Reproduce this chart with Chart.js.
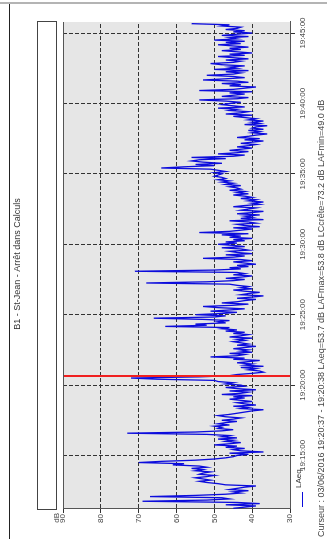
<!DOCTYPE html>
<html>
<head>
<meta charset="utf-8">
<script src="https://cdn.jsdelivr.net/npm/chart.js@4.4.1/dist/chart.umd.min.js"></script>
<style>
  html, body { margin: 0; padding: 0; background: #fff; overflow: hidden; }
  body { width: 327px; height: 539px; position: relative; }
  /* the chart is drawn landscape and turned a quarter to the left */
  #wrap {
    position: absolute; left: 0; top: 539px;
    width: 539px; height: 327px;
    transform-origin: 0 0;
    transform: rotate(-90deg);
  }
</style>
</head>
<body>
<div id="wrap"><canvas id="chart" width="539" height="327"></canvas></div>
<script>
// series: LAeq every 5 s starting at startTime
const startTime = "19:11:15";
const stepSeconds = 5;
const laeq = [
  45, 42, 39, 47, 38, 44, 69, 52, 46,
  48, 67, 55, 47, 43, 45, 41, 46, 44, 42, 39, 47,
  49, 52, 54, 51, 53, 55, 52, 50, 54, 53, 51, 55,
  53, 56, 52, 54, 61, 58, 70, 64, 55, 50, 47, 45,
  44, 41, 46, 37, 43, 45, 42, 47, 44, 50, 46, 43,
  47, 45, 49, 44, 48, 46, 52, 73, 55, 48, 45, 49,
  48, 50, 46, 49, 47, 44, 48, 45, 43, 47, 49, 46,
  44, 42, 40, 37, 43, 41, 45, 39, 42, 44, 40, 43,
  46, 42, 45, 40, 48, 43, 41, 46, 39, 44, 47, 42,
  43, 47, 45, 49, 50, 65, 72, 54, 46, 44, 40, 37,
  38, 41, 39, 43, 37, 42, 40, 44, 41, 38, 45, 42,
  51, 44, 42, 46, 40, 43, 41, 45, 42, 39, 44, 41,
  43, 45, 42, 44, 40, 46, 43, 41, 45, 42, 47, 44,
  48, 46, 63, 52, 55, 47, 49, 46, 53, 66, 50, 47,
  55, 48, 44, 51, 46, 42, 49, 53, 45, 41, 48, 44,
  42, 39, 44, 40, 37, 43, 41, 38, 42, 45, 40, 43,
  41, 44, 46, 68, 52, 45, 42, 47, 43, 40, 45, 42,
  44, 71, 50, 43, 46, 41, 44, 39, 42, 45, 40, 43,
  53, 45, 42, 47, 40, 44, 46, 41, 43, 48, 42, 45,
  49, 44, 47, 42, 45, 40, 46, 43, 48, 41, 54, 46,
  43, 40, 45, 38, 42, 44, 39, 41, 46, 37, 43, 40,
  42, 38, 44, 40, 37, 43, 41, 39, 45, 42, 38, 40,
  37, 41, 39, 43, 40, 42, 45, 41, 44, 42, 46, 43,
  44, 46, 43, 47, 45, 48, 46, 49, 47, 48, 50, 49,
  48, 50, 47, 49, 51, 64, 58, 50, 55, 48, 53, 56,
  54, 47, 56, 45, 42, 49, 44, 41, 46, 43, 40, 44,
  41, 39, 43, 40, 37, 42, 38, 44, 41, 39, 36, 40,
  38, 41, 37, 40, 39, 36, 42, 38, 40, 37, 41, 39,
  42, 45, 40, 47, 43, 41, 46, 44, 49, 42, 45, 48,
  46, 43, 47, 54, 44, 41, 48, 45, 42, 46, 40, 54,
  45, 42, 39, 46, 43, 48, 41, 44, 53, 47, 42, 45,
  52, 45, 43, 47, 41, 50, 44, 46, 42, 48, 51, 45,
  43, 47, 41, 45, 49, 42, 46, 40, 44, 48, 43, 46,
  41, 45, 49, 43, 47, 42, 50, 44, 46, 41, 48, 44,
  40, 45, 42, 47, 44, 43, 48, 46, 56
];
const timeTicks = ["19:15:00", "19:20:00", "19:25:00", "19:30:00", "19:35:00", "19:40:00", "19:45:00"];
const timeMin = "19:11:12";
const timeMax = "19:45:47";
const dbMin = 30;
const dbMax = 90;
const dbStep = 10;
const cursorTime = "19:20:37";

const titleText = "B1 - St-Jean - Arrêt dans Calculs";
const seriesName = "LAeq";
const footerText = "Curseur : 03/06/2016 19:20:37 - 19:20:38 LAeq=53.7 dB LAFmax=53.8 dB LCcrête=73.2 dB LAFmin=49.0 dB";

const FONT = "'Liberation Sans', Arial, sans-serif";
const LINE_BLUE = "#0c0cdc";

const toSeconds = (s) => {
  const p = s.split(":").map(Number);
  return p[0] * 3600 + p[1] * 60 + p[2];
};
const pad = (n) => String(n).padStart(2, "0");
const toClock = (v) => {
  const h = Math.floor(v / 3600);
  const m = Math.floor((v % 3600) / 60);
  const s = Math.round(v % 60);
  return pad(h) + ":" + pad(m) + ":" + pad(s);
};

const t0 = toSeconds(startTime);
const points = laeq.map((v, i) => ({ x: t0 + i * stepSeconds, y: v }));

// background, borders, box, legend, texts and cursor
const decorations = {
  id: "decorations",
  beforeDraw(chart) {
    const { ctx, chartArea: a } = chart;
    ctx.save();
    ctx.fillStyle = "#e6e6e6";
    ctx.fillRect(a.left, a.top, a.right - a.left, a.bottom - a.top);
    ctx.restore();
  },
  afterDraw(chart) {
    const { ctx, chartArea: a, width, height, scales } = chart;
    ctx.save();

    // cursor line
    const cx = Math.round(scales.x.getPixelForValue(toSeconds(cursorTime) + 0.5));
    ctx.fillStyle = "#f02020";
    ctx.fillRect(cx - 1, a.top, 2, a.bottom - a.top);

    // top border of the plot
    ctx.strokeStyle = "#555";
    ctx.lineWidth = 1;
    ctx.beginPath();
    ctx.moveTo(a.left, a.top + 0.5);
    ctx.lineTo(a.right, a.top + 0.5);
    ctx.stroke();

    // empty box above the plot
    ctx.fillStyle = "#fff";
    ctx.fillRect(a.left - 1, 37, a.right - a.left + 2, 19);
    ctx.strokeStyle = "#444";
    ctx.strokeRect(a.left - 0.5, 37.5, a.right - a.left + 1, 19);

    // title
    ctx.fillStyle = "#333";
    ctx.font = "9px " + FONT;
    ctx.textAlign = "center";
    ctx.textBaseline = "middle";
    ctx.fillText(titleText, 275, 18);

    // unit above the 90 tick
    ctx.font = "8px " + FONT;
    ctx.textAlign = "right";
    ctx.fillStyle = "#444";
    ctx.fillText("dB", 26, 57);

    // legend
    ctx.strokeStyle = LINE_BLUE;
    ctx.beginPath();
    ctx.moveTo(32, 302.5);
    ctx.lineTo(47, 302.5);
    ctx.stroke();
    ctx.textAlign = "left";
    ctx.fillStyle = "#333";
    ctx.fillText(seriesName, 51, 299);

    // cursor readout
    ctx.font = "9px " + FONT;
    ctx.fillStyle = "#444";
    ctx.fillText(footerText, 2, 322);

    // outer frame
    ctx.strokeStyle = "#222";
    ctx.beginPath();
    ctx.moveTo(0, 9.5);
    ctx.lineTo(width - 3, 9.5);
    ctx.stroke();
    ctx.strokeStyle = "#b4b4b4";
    ctx.lineWidth = 2;
    ctx.beginPath();
    ctx.moveTo(width - 3, 0);
    ctx.lineTo(width - 3, height);
    ctx.stroke();

    ctx.restore();
  }
};

new Chart(document.getElementById("chart"), {
  type: "line",
  data: {
    datasets: [{
      label: seriesName,
      data: points,
      borderColor: LINE_BLUE,
      borderWidth: 1.3,
      pointRadius: 0,
      tension: 0,
      fill: false
    }]
  },
  options: {
    responsive: false,
    animation: false,
    parsing: false,
    layout: { padding: { left: 0, right: 22, top: 63, bottom: 0 } },
    plugins: {
      legend: { display: false },
      title: { display: false },
      tooltip: { enabled: false }
    },
    scales: {
      x: {
        type: "linear",
        min: toSeconds(timeMin),
        max: toSeconds(timeMax),
        afterBuildTicks: (scale) => {
          scale.ticks = timeTicks.map((t) => ({ value: toSeconds(t) }));
        },
        afterFit: (scale) => { scale.height = 37; },
        ticks: {
          autoSkip: false,
          maxRotation: 0,
          padding: 3,
          color: "#444",
          font: { family: FONT, size: 8 },
          callback: (v) => toClock(v)
        },
        grid: { color: "#333", lineWidth: 1, tickLength: 5, tickColor: "#333" },
        border: { display: true, color: "#555", width: 1, dash: [4, 2] }
      },
      y: {
        min: dbMin,
        max: dbMax,
        afterFit: (scale) => { scale.width = 30; },
        ticks: {
          stepSize: dbStep,
          padding: 1,
          color: "#444",
          font: { family: FONT, size: 8 }
        },
        grid: {
          color: (c) => (c.tick && (c.tick.value === dbMin || c.tick.value === dbMax)) ? "rgba(0,0,0,0)" : "#333",
          lineWidth: 1,
          tickLength: 4,
          tickColor: "#333"
        },
        border: { display: true, color: "#555", width: 1, dash: [4, 2] }
      }
    }
  },
  plugins: [decorations]
});
</script>
</body>
</html>
